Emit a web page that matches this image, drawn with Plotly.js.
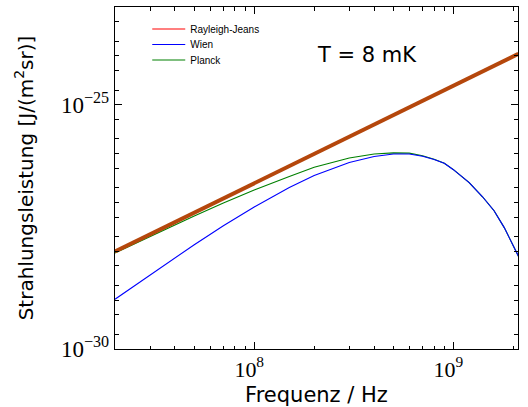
<!DOCTYPE html>
<html>
<head>
<meta charset="utf-8">
<script src="https://cdn.plot.ly/plotly-3.0.1.min.js"></script>
<style>html,body{margin:0;padding:0;background:#fff;}#chart{width:528px;height:407px;}</style>
</head>
<body>
<div id="chart"></div>
<script>
// Frequencies (Hz) and radiance values
var rjFreq = [2e7, 5e7, 1e8, 2e8, 5e8, 1e9, 2e9, 2.12e9];
var rjVal  = [9.9e-29, 6.2e-28, 2.48e-27, 9.9e-27, 6.2e-26, 2.48e-25, 9.9e-25, 1.1e-24];

var wienFreq = [2e7, 3e7, 5e7, 7e7, 1e8, 1.5e8, 2e8, 3e8, 4e8, 5e8, 5.5e8, 6e8, 7e8, 8e8, 9e8, 1e9, 1.2e9, 1.4e9, 1.6e9, 1.8e9, 2e9, 2.12e9];
var wienVal  = [1.045e-29, 3.32e-29, 1.365e-28, 3.32e-28, 8.07e-28, 2.02e-27, 3.55e-27, 6.58e-27, 8.71e-27, 9.8e-27, 9.9e-27, 9.8e-27, 8.81e-27, 7.59e-27, 6.31e-27, 4.68e-27, 2.54e-27, 1.306e-27, 6.76e-28, 3.05e-28, 1.29e-28, 7.94e-29];

var planckFreq = [2e7, 3e7, 5e7, 7e7, 1e8, 1.5e8, 2e8, 3e8, 4e8, 5e8, 5.5e8, 6e8, 7e8, 8e8, 9e8, 1e9, 1.2e9, 1.4e9, 1.6e9, 1.8e9, 2e9, 2.12e9];
var planckVal  = [9.25e-29, 2.01e-28, 5.26e-28, 9.68e-28, 1.79e-27, 3.40e-27, 5.25e-27, 8.13e-27, 9.77e-27, 1.035e-26, 1.047e-26, 1.023e-26, 9.02e-27, 7.67e-27, 6.35e-27, 4.69e-27, 2.54e-27, 1.306e-27, 6.76e-28, 3.05e-28, 1.29e-28, 7.94e-29];

var seriesNames = ['Rayleigh-Jeans', 'Wien', 'Planck'];

var xTickVals = [1e8, 1e9];
var xTickText = ['10<sup>8</sup>', '10<sup>9</sup>'];
var xMinorVals = [2e7,3e7,4e7,5e7,6e7,7e7,8e7,9e7,2e8,3e8,4e8,5e8,6e8,7e8,8e8,9e8,2e9];

var yTickVals = [1e-30, 1e-25];
var yTickText = ['10<sup>\u221230</sup>', '10<sup>\u221225</sup>'];
var yMinorVals = [];
[-30,-29,-28,-27,-26,-25,-24].forEach(function(e){
  if (e !== -30 && e !== -25) yMinorVals.push(Math.pow(10,e));
  yMinorVals.push(2*Math.pow(10,e)); yMinorVals.push(5*Math.pow(10,e));
});

var traces = [
  {x: planckFreq, y: planckVal, type: 'scatter', mode: 'lines', name: seriesNames[2],
   line: {color: '#008000', width: 1.1}, legend: 'legend3'},
  {x: wienFreq, y: wienVal, type: 'scatter', mode: 'lines', name: seriesNames[1],
   line: {color: '#0000ff', width: 1.1}, legend: 'legend2'},
  {x: rjFreq, y: rjVal, type: 'scatter', mode: 'lines', name: seriesNames[0],
   line: {color: '#b5470c', width: 4}, showlegend: false},
  {x: [null], y: [null], type: 'scatter', mode: 'lines', name: seriesNames[0],
   line: {color: '#ff0000', width: 1.1}, legend: 'legend'}
];

var serif = 'Liberation Serif, DejaVu Serif, serif';
var sans = 'DejaVu Sans, sans-serif';
var legFont = {family: 'Liberation Sans, Arial, sans-serif', size: 10, color: '#000'};
function leg(py) {
  return {x: 0.08, y: (349.3 - py) / 342.3, xanchor: 'left', yanchor: 'middle', bgcolor: 'rgba(0,0,0,0)',
          borderwidth: 0, itemwidth: 33, font: legFont};
}

var layout = {
  width: 528, height: 407,
  margin: {l: 115, r: 10, t: 7, b: 58},
  paper_bgcolor: '#fff', plot_bgcolor: '#fff',
  showlegend: true,
  legend: leg(29), legend2: leg(44.5), legend3: leg(60),
  xaxis: {
    type: 'log', range: [Math.log10(2e7), Math.log10(2.11e9)],
    tickmode: 'array', tickvals: xTickVals, ticktext: xTickText,
    ticks: 'inside', ticklen: 7, tickwidth: 1, tickcolor: '#000',
    minor: {tickmode: 'array', tickvals: xMinorVals, ticks: 'inside', ticklen: 3.5, tickwidth: 1, tickcolor: '#000', showgrid: false},
    showline: true, linecolor: '#000', linewidth: 1.3, mirror: 'allticks',
    showgrid: false, zeroline: false,
    tickfont: {family: serif, size: 22, color: '#000'},
    ticklabelshift: -5,
    title: {text: 'Frequenz / Hz', font: {family: sans, size: 21, color: '#000'}, standoff: 6}
  },
  yaxis: {
    type: 'log', range: [-30, -23],
    tickmode: 'array', tickvals: yTickVals, ticktext: yTickText,
    ticks: 'inside', ticklen: 7, tickwidth: 1, tickcolor: '#000',
    minor: {tickmode: 'array', tickvals: yMinorVals, ticks: 'inside', ticklen: 4, tickwidth: 1, tickcolor: '#000', showgrid: false},
    showline: true, linecolor: '#000', linewidth: 1.3, mirror: 'allticks',
    showgrid: false, zeroline: false,
    tickfont: {family: serif, size: 23, color: '#000'},
    title: {text: 'Strahlungsleistung [J/(m<sup>2</sup>sr)]', font: {family: sans, size: 20, color: '#000'}, standoff: 22}
  },
  annotations: [
    {text: 'T = 8 mK', xref: 'paper', yref: 'paper', x: 0.625, y: 0.86, xanchor: 'center', yanchor: 'middle',
     showarrow: false, font: {family: sans, size: 21, color: '#000'}}
  ]
};

Plotly.newPlot('chart', traces, layout, {displayModeBar: false, staticPlot: true});
</script>
</body>
</html>
